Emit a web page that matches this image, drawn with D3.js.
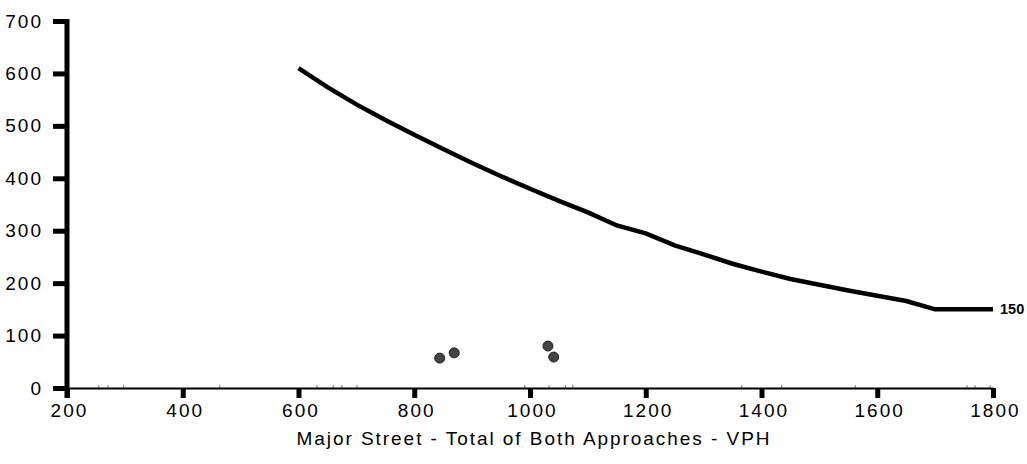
<!DOCTYPE html>
<html>
<head>
<meta charset="utf-8">
<script src="https://cdn.jsdelivr.net/npm/d3@7"></script>
<style>
  body { margin: 0; background: #fff; }
  text { font-family: "Liberation Sans", Arial, sans-serif; }
</style>
</head>
<body>
<div id="chart"></div>
<script>
var width = 1027,
    height = 464;

// warrant curve (major street VPH vs minor street VPH)
var curveX = [600, 650, 700, 750, 800, 850, 900, 950, 1000, 1050, 1100, 1150, 1200, 1250, 1300, 1350, 1400, 1450, 1500, 1550, 1600, 1650, 1700, 1800];
var curveY = [610, 574, 541, 511, 483, 456, 429, 404, 380, 357, 335, 310, 295, 272, 255, 237, 222, 208, 197, 186, 176, 166, 150, 150];

// observed hours
var pointX = [844, 869, 1031, 1041];
var pointY = [57, 67, 80, 59];

var xTicks = [200, 400, 600, 800, 1000, 1200, 1400, 1600, 1800];
var yTicks = [0, 100, 200, 300, 400, 500, 600, 700];
var minorX = [255, 271, 298, 464, 632, 660, 675, 701, 991, 1033, 1061, 1074, 1366, 1435, 1562, 1755, 1769, 1795];
var xTitle = "Major Street - Total of Both Approaches - VPH";
var endLabel = "150";

var x = d3.scaleLinear().domain([200, 1800]).range([67, 993]);
var y = d3.scaleLinear().domain([0, 700]).range([388, 21]);

var svg = d3.select("#chart")
    .append("svg")
    .attr("width", width)
    .attr("height", height);

// minor ticks on x axis
svg.append("g")
    .selectAll("line")
    .data(minorX)
    .enter()
    .append("line")
    .attr("x1", function (d) { return x(d); })
    .attr("x2", function (d) { return x(d); })
    .attr("y1", y(0))
    .attr("y2", y(0) - 3)
    .attr("stroke", "#777")
    .attr("stroke-width", 1);

// x axis: labels from d3 axis, thick ticks drawn below
var gx = svg.append("g")
    .attr("transform", "translate(0," + y(0) + ")")
    .call(d3.axisBottom(x).tickValues(xTicks).tickFormat(d3.format("d"))
        .tickSize(10).tickSizeOuter(0).tickPadding(6));
gx.select(".domain").attr("stroke", "#000").attr("stroke-width", 2);
gx.selectAll(".tick line")
    .attr("stroke", "#000")
    .attr("stroke-width", 5);
gx.selectAll(".tick text")
    .attr("dx", "0.1em")
    .style("font-family", "'Liberation Sans', Arial, sans-serif")
    .style("font-size", "19px")
    .style("letter-spacing", "2px")
    .attr("fill", "#000");

var gy = svg.append("g")
    .attr("transform", "translate(" + x(200) + ",0)")
    .call(d3.axisLeft(y).tickValues(yTicks).tickFormat(d3.format("d"))
        .tickSize(14).tickSizeOuter(0).tickPadding(10));
gy.select(".domain").remove();
gy.append("line")
    .attr("x1", 0).attr("x2", 0)
    .attr("y1", y(700) - 2).attr("y2", y(0) + 10)
    .attr("stroke", "#000")
    .attr("stroke-width", 5);
gy.selectAll(".tick line")
    .attr("stroke", "#000")
    .attr("stroke-width", 5);
gy.selectAll(".tick text")
    .style("font-family", "'Liberation Sans', Arial, sans-serif")
    .style("font-size", "19px")
    .style("letter-spacing", "2px")
    .attr("fill", "#000");

svg.append("text")
    .attr("x", 533)
    .attr("y", 445)
    .attr("text-anchor", "middle")
    .attr("textLength", 473)
    .attr("lengthAdjust", "spacing")
    .style("font-size", "19px")
    .text(xTitle);

var line = d3.line()
    .x(function (d) { return x(d[0]); })
    .y(function (d) { return y(d[1]); });

svg.append("path")
    .datum(d3.zip(curveX, curveY))
    .attr("d", line)
    .attr("fill", "none")
    .attr("stroke", "#000")
    .attr("stroke-width", 4.5);

svg.append("text")
    .attr("x", x(1800) + 7)
    .attr("y", y(150) + 5)
    .style("font-size", "14.5px")
    .style("font-weight", "bold")
    .text(endLabel);

svg.append("g")
    .selectAll("circle")
    .data(d3.zip(pointX, pointY))
    .enter()
    .append("circle")
    .attr("cx", function (d) { return x(d[0]); })
    .attr("cy", function (d) { return y(d[1]); })
    .attr("r", 5)
    .attr("fill", "#444")
    .attr("stroke", "#222")
    .attr("stroke-width", 1);
</script>
</body>
</html>
